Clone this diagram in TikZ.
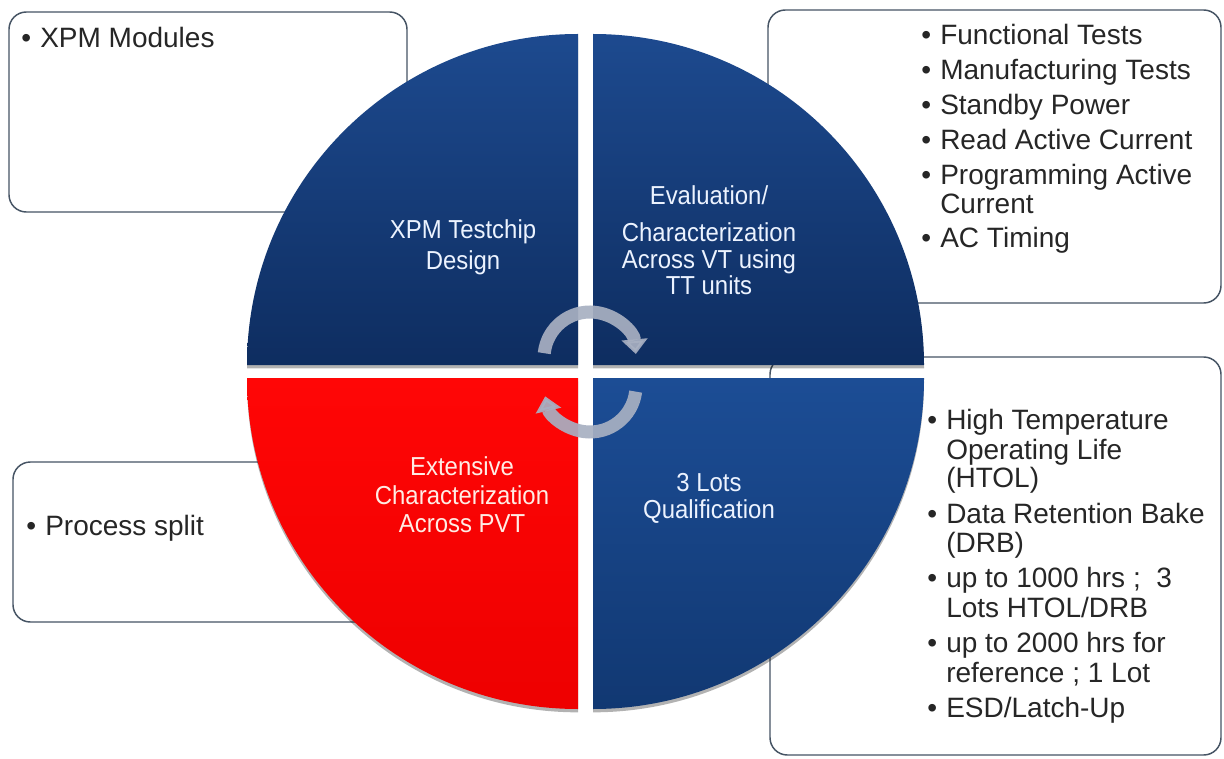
\documentclass[tikz,border=0pt]{standalone}
\usepackage{fontspec}
\usepackage{graphicx}
\setmainfont{Liberation Sans}
\usetikzlibrary{arrows.meta,shadows}

\definecolor{boxline}{RGB}{70,84,100}
\definecolor{boxtext}{RGB}{38,38,38}
\definecolor{navytop}{RGB}{29,74,143}
\definecolor{navybot}{RGB}{14,45,96}
\definecolor{navytopb}{RGB}{28,77,149}
\definecolor{navybotb}{RGB}{17,56,114}
\definecolor{redtop}{RGB}{255,6,6}
\definecolor{redbot}{RGB}{238,0,0}
\definecolor{cycgray}{RGB}{168,176,194}
\definecolor{wedgetext}{RGB}{236,243,255}
\definecolor{redtext}{RGB}{255,236,228}

% bullet with a fixed hanging gap
\newcommand{\bul}[1]{\makebox[14.25pt][l]{\textbullet}#1}
% slightly narrowed caption lettering
\newcommand{\narrow}[1]{\scalebox{0.92}[1]{#1}}

\begin{document}
\begin{tikzpicture}[x=0.75pt,y=0.75pt,
  infobox/.style={draw=boxline,line width=1.1pt,fill=white,rounded corners=13pt},
  bline/.style={anchor=base west,inner sep=0pt,text=boxtext,font=\fontsize{21}{24}\selectfont},
  wtext/.style={anchor=base,inner sep=0pt,text=wedgetext,font=\fontsize{19.5}{22}\selectfont},
  rtext/.style={wtext,text=redtext},
  wedge/.style={drop shadow={shadow xshift=0pt,shadow yshift=-2.5pt,opacity=0.3,fill=black}},
  cyc/.style={draw=cycgray,line width=9.75pt,-{Triangle[width=19pt,length=11pt]},opacity=0.92}
]
\useasboundingbox (0,0) rectangle (1224,-759);
\fill[white] (0,0) rectangle (1224,-759);

% side panels (drawn first, the wheel covers their inner parts)
\draw[infobox] (9,-12) rectangle (407,-212);
\draw[infobox] (13,-462) rectangle (410,-622);
\draw[infobox] (768,-10) rectangle (1221,-303);
\draw[infobox] (770,-357) rectangle (1221,-755);

% the four quarter wedges
\shade[wedge,top color=navytop,bottom color=navybot]
  (578,-365) -- (247,-365) arc[start angle=180,end angle=90,radius=331] -- cycle;
\shade[wedge,top color=navytop,bottom color=navybot]
  (593,-365) -- (593,-34) arc[start angle=90,end angle=0,radius=331] -- cycle;
\shade[wedge,top color=redtop,bottom color=redbot]
  (578,-378) -- (578,-709) arc[start angle=270,end angle=180,radius=331] -- cycle;
\shade[wedge,top color=navytopb,bottom color=navybotb]
  (593,-378) -- (924,-378) arc[start angle=0,end angle=-90,radius=331] -- cycle;

% cycle arrows in the middle
\coordinate (cu) at (590,-358);
\coordinate (cl) at (590,-386);
\draw[cyc] (cu) ++(174:46) arc[start angle=174,end angle=5,radius=46];
\draw[cyc] (cl) ++(-7:46) arc[start angle=-7,end angle=-167,radius=46];

% wedge captions
\node[wtext] (tl1) at (463,-239) {\narrow{XPM Testchip}};
\node[wtext] (tl2) at (463,-270) {\narrow{Design}};
\node[wtext] (tr1) at (709,-205) {\narrow{Evaluation/}};
\node[wtext] (tr2) at (709,-242) {\narrow{Characterization}};
\node[wtext] (tr3) at (709,-269) {\narrow{Across VT using}};
\node[wtext] (tr4) at (709,-295) {\narrow{TT units}};
\node[rtext] (bl1) at (462,-475) {\narrow{Extensive}};
\node[rtext] (bl2) at (462,-504) {\narrow{Characterization}};
\node[rtext] (bl3) at (462,-532) {\narrow{Across PVT}};
\node[wtext] (br1) at (709,-491) {\narrow{3 Lots}};
\node[wtext] (br2) at (709,-518) {\narrow{Qualification}};

% panel texts
\node[bline] (a1) at (21,-48) {\bul{XPM Modules}};
\node[bline] (c1) at (26,-535) {\bul{Process split}};

\node[bline] (b1) at (921,-45) {\bul{Functional Tests}};
\node[bline] (b2) at (921,-80) {\bul{Manufacturing Tests}};
\node[bline] (b3) at (921,-115) {\bul{Standby Power}};
\node[bline] (b4) at (921,-150) {\bul{Read Active Current}};
\node[bline] (b5) at (921,-185) {\bul{Programming Active}};
\node[bline] (b6) at (940,-214) {Current};
\node[bline] (b7) at (921,-248) {\bul{AC Timing}};

\node[bline] (d1) at (927,-429) {\bul{High Temperature}};
\node[bline] (d2) at (946,-459) {Operating Life};
\node[bline] (d3) at (946,-487) {(HTOL)};
\node[bline] (d4) at (927,-523) {\bul{Data Retention Bake}};
\node[bline] (d5) at (946,-552) {(DRB)};
\node[bline] (d6) at (927,-587) {\bul{up to 1000 hrs ;\ \ 3}};
\node[bline] (d7) at (946,-617) {Lots HTOL/DRB};
\node[bline] (d8) at (927,-652) {\bul{up to 2000 hrs for}};
\node[bline] (d9) at (946,-682) {reference ; 1 Lot};
\node[bline] (d10) at (927,-717) {\bul{ESD/Latch-Up}};
\end{tikzpicture}
\end{document}
